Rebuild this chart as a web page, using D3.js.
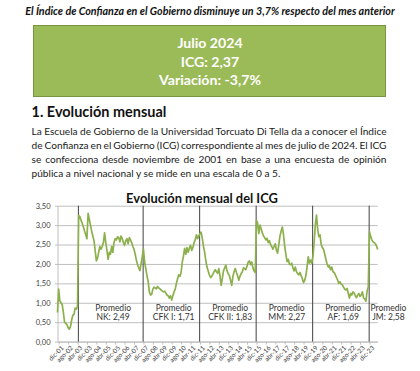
<!DOCTYPE html>
<html>
<head>
<meta charset="utf-8">
<script src="https://cdn.jsdelivr.net/npm/d3@7"></script>
<style>
  body { margin: 0; background: #fff; }
  svg { display: block; font-family: Lato, "Open Sans", sans-serif; }
</style>
</head>
<body>
<div id="chart"></div>
<script>
// monthly ICG, nov-01 .. jul-24
const icg = [
  0.75, 1.35, 1.05, 1.0, 0.95, 0.75, 0.5, 0.47, 0.44, 0.36, 0.32, 0.38, 0.55, 0.68, 0.7, 0.86, 0.84, 0.9,
  3.25, 3.22, 3.12, 3.05, 2.95, 2.85, 2.75, 2.65, 3.3, 3.15, 3.0, 2.85, 2.72, 2.6, 2.35, 2.08, 2.15, 2.3,
  2.45, 2.38, 2.45, 2.55, 2.8, 2.55, 2.35, 2.12, 2.3, 2.25,
  2.45, 2.3, 2.55, 2.65, 2.62, 2.7, 2.68, 2.57, 2.72, 2.65, 2.55, 2.48, 2.6, 2.65, 2.52, 2.68, 2.62, 2.55,
  2.45, 2.38, 2.25, 2.1, 1.98, 1.9, 1.83, 2.0, 2.18,
  2.38, 2.05, 1.88, 1.7, 1.55, 1.28, 1.2, 1.22, 1.35, 1.4, 1.38, 1.36, 1.42, 1.38, 1.36, 1.33, 1.3, 1.28,
  1.3, 1.25, 1.2, 1.18, 1.12, 1.18, 1.07, 1.18, 1.28, 1.35, 1.5, 1.62, 1.72, 1.68, 1.78, 2.05, 2.2, 2.4,
  2.25, 2.42, 2.3, 2.4, 2.48, 2.35, 2.42, 2.55, 2.62, 2.75, 2.65, 2.72,
  2.78, 2.82, 2.66, 2.45, 2.3, 2.08, 1.92, 1.82, 1.72, 1.65, 1.68, 1.74, 1.8, 1.85, 1.8, 1.76, 1.88, 1.7,
  1.45, 1.62, 1.82, 1.9, 1.97, 1.82, 1.75, 1.7, 1.58, 1.45, 1.68, 1.8, 1.88, 1.78, 1.7, 1.58, 1.68, 1.75,
  1.8, 1.9, 1.88, 1.85, 1.95, 2.05, 2.08, 1.98, 2.05, 1.9, 1.82, 1.78,
  3.12, 3.05, 2.78, 3.0, 2.9, 2.8, 2.72, 2.68, 2.62, 2.66, 2.55, 2.6, 2.5, 2.45, 2.38, 2.45, 2.52, 2.35,
  2.28, 2.5, 2.72, 2.85, 2.95, 2.75, 2.45, 2.25, 2.06, 2.12, 2.0, 1.98, 2.02, 1.9, 1.82, 1.92, 1.8, 1.75,
  1.72, 1.78, 1.7, 1.62, 1.52, 1.58, 1.7, 1.92, 2.18, 2.02, 2.1, 2.02,
  2.2, 2.55, 3.0, 3.26, 2.9, 2.7, 2.75, 2.5, 2.42, 2.38, 2.25, 2.12, 2.0, 1.92, 1.95, 1.85, 1.92, 1.8,
  1.78, 1.72, 1.65, 1.58, 1.5, 1.54, 1.48, 1.46, 1.4, 1.35, 1.33, 1.37, 1.24, 1.12, 1.24, 1.2, 1.28, 1.25,
  1.18, 1.13, 1.2, 1.24, 1.16, 1.2, 1.28, 1.12, 1.1, 1.04, 1.3, 1.41,
  2.83, 2.72, 2.62, 2.57, 2.55, 2.52, 2.46, 2.37
];

const mesNames = ["ene","feb","mar","abr","may","jun","jul","ago","sep","oct","nov","dic"];
const periodStart = ["may-03", "dic-07", "dic-11", "dic-15", "dic-19", "dic-23"];
const periodName = ["NK", "CFK I", "CFK II", "MM", "AF", "JM"];
const periodAvg = ["2,49", "1,71", "1,83", "2,27", "1,69", "2,58"];
const yTicks = [0, 0.5, 1, 1.5, 2, 2.5, 3, 3.5];

const headline = "El Índice de Confianza en el Gobierno disminuye un 3,7% respecto del mes anterior";
const boxLines = ["Julio 2024", "ICG: 2,37", "Variación: -3,7%"];
const sectionTitle = "1. Evolución mensual";
const paragraph = [
  "La Escuela de Gobierno de la Universidad Torcuato Di Tella da a conocer el Índice",
  "de Confianza en el Gobierno (ICG) correspondiente al mes de julio de 2024. El ICG",
  "se confecciona desde noviembre de 2001 en base a una encuesta de opinión",
  "pública a nivel nacional y se mide en una escala de 0 a 5."
];
const chartTitle = "Evolución mensual del ICG";

// month labels nov-01 ...
const months = icg.map((d, i) => {
  const m = (10 + i) % 12;
  const y = 2001 + Math.floor((10 + i) / 12);
  return mesNames[m] + "-" + String(y % 100).padStart(2, "0");
});
const tickMonths = months.filter((d, i) => i >= 1 && (i - 1) % 8 === 0);

const W = 420, H = 371;
const svg = d3.select("#chart").append("svg")
  .attr("width", W)
  .attr("height", H);

// scale font so the text takes the given width
function fit(sel, width) {
  sel.style("font-size", "10px");
  const w = sel.node().getComputedTextLength();
  sel.style("font-size", (10 * width / w) + "px");
}

// headline
const hl = svg.append("text")
  .attr("x", 210).attr("y", 14.5)
  .attr("text-anchor", "middle")
  .style("font-weight", "bold").style("font-style", "italic")
  .attr("fill", "#111")
  .text(headline);
fit(hl, 370);

// green box
svg.append("rect")
  .attr("x", 33.5).attr("y", 25.5)
  .attr("width", 352).attr("height", 71)
  .attr("fill", "#9bbb59")
  .attr("stroke", "#7a9640");

const boxText = svg.selectAll(".boxline")
  .data(boxLines)
  .enter().append("text")
  .attr("class", "boxline")
  .attr("x", 210)
  .attr("y", (d, i) => 48.3 + i * 18.3)
  .attr("text-anchor", "middle")
  .attr("fill", "#fff")
  .style("font-weight", "bold")
  .text(d => d);
fit(d3.select(boxText.nodes()[2]), 102);
boxText.style("font-size", d3.select(boxText.nodes()[2]).style("font-size"));

// section title
const st = svg.append("text")
  .attr("x", 31.5).attr("y", 116.5)
  .style("font-weight", "bold")
  .attr("fill", "#111")
  .text(sectionTitle);
fit(st, 135);

// paragraph, justified
const paraX0 = 31.5, paraX1 = 386.5;
const paraText = svg.selectAll(".para")
  .data(paragraph)
  .enter().append("text")
  .attr("class", "para")
  .attr("x", paraX0)
  .attr("y", (d, i) => 134.5 + i * 14.3)
  .attr("fill", "#1a1a1a")
  .text(d => d);
fit(d3.select(paraText.nodes()[3]), 249);
const paraSize = d3.select(paraText.nodes()[3]).style("font-size");
paraText.style("font-size", paraSize);
paraText.each(function(d, i) {
  if (i === paragraph.length - 1) return;
  const w = this.getComputedTextLength();
  const gaps = d.split(" ").length - 1;
  d3.select(this).style("word-spacing", ((paraX1 - paraX0 - w) / gaps) + "px");
});

// chart title
const ct = svg.append("text")
  .attr("x", 202).attr("y", 203)
  .attr("text-anchor", "middle")
  .style("font-weight", "bold")
  .attr("fill", "#111")
  .text(chartTitle);
fit(ct, 152);

// chart
const x = d3.scalePoint().domain(months).range([57.5, 377.7]);
const y = d3.scaleLinear().domain([0, 3.5]).range([341.6, 205.7]);
const fmt = d => d3.format(".2f")(d).replace(".", ",");

const yAxis = svg.append("g")
  .attr("transform", "translate(57.5,0)")
  .call(d3.axisLeft(y).tickValues(yTicks).tickFormat(fmt)
    .tickSizeInner(-(377.7 - 57.5)).tickSizeOuter(0).tickPadding(7));
yAxis.select(".domain").attr("stroke", "#bfbfbf");
yAxis.selectAll(".tick line").attr("stroke", "#bfbfbf").attr("x1", -2.5);
yAxis.selectAll(".tick text")
  .attr("fill", "#404040")
  .style("font-size", "7.5px")
  .style("font-family", "Lato, sans-serif");

const xAxis = svg.append("g")
  .attr("transform", "translate(0," + y(0) + ")")
  .call(d3.axisBottom(x).tickValues(tickMonths).tickSizeInner(3).tickSizeOuter(0).tickPadding(2));
xAxis.select(".domain").attr("stroke", "#bfbfbf");
xAxis.selectAll(".tick line").attr("stroke", "#bfbfbf");
xAxis.selectAll(".tick text")
  .attr("fill", "#404040")
  .style("font-size", "6.5px")
  .style("font-family", "Lato, sans-serif")
  .attr("text-anchor", "end")
  .attr("dx", "-0.2em")
  .attr("dy", "0.5em")
  .attr("transform", "rotate(-45)");

// period separators
svg.selectAll(".sep")
  .data(periodStart)
  .enter().append("line")
  .attr("class", "sep")
  .attr("x1", d => x(d) - 0.3).attr("x2", d => x(d) - 0.3)
  .attr("y1", y(3.5)).attr("y2", y(0))
  .attr("stroke", "#404040")
  .attr("stroke-width", 1);

// ICG line
svg.append("path")
  .datum(icg)
  .attr("fill", "none")
  .attr("stroke", "#8cb04c")
  .attr("stroke-width", 1.7)
  .attr("stroke-linejoin", "round")
  .attr("d", d3.line().x((d, i) => x(months[i])).y(d => y(d)));

// period averages
const labX = periodStart.map((d, i) => i < periodStart.length - 1
  ? (x(d) + x(periodStart[i + 1])) / 2 + 2
  : x(d) + 19);
const lab = svg.selectAll(".avg")
  .data(periodName)
  .enter().append("text")
  .attr("class", "avg")
  .attr("text-anchor", "middle")
  .attr("fill", "#333")
  .style("font-size", "8.5px");
lab.append("tspan")
  .attr("x", (d, i) => labX[i]).attr("y", 310.7)
  .text("Promedio");
lab.append("tspan")
  .attr("x", (d, i) => labX[i]).attr("y", 320.3)
  .text((d, i) => d + ": " + periodAvg[i]);
</script>
</body>
</html>
